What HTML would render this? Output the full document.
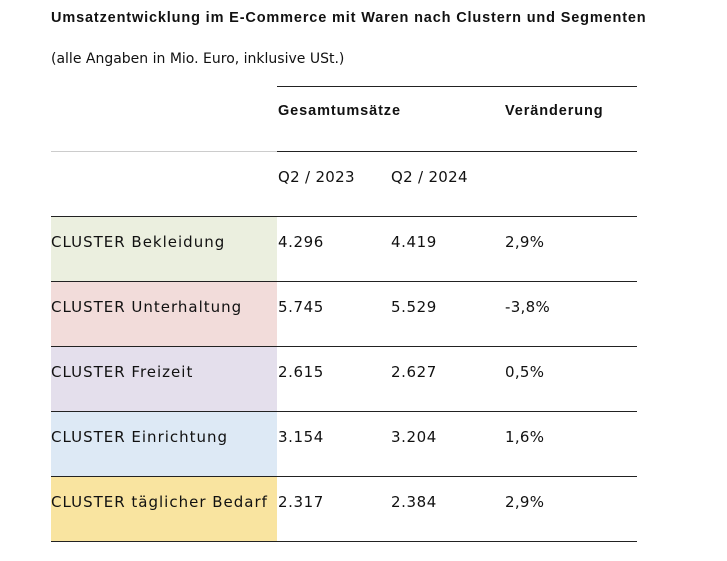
<!DOCTYPE html>
<html><head><meta charset="utf-8"><style>
body{margin:0;width:727px;height:561px;background:#fff;font-family:"DejaVu Sans","Liberation Sans",sans-serif;color:#111;position:relative;overflow:hidden}
.a{position:absolute;white-space:nowrap;font-size:15px;letter-spacing:1px}
.b{font-family:"Liberation Sans",sans-serif;font-weight:bold;font-size:14.5px;letter-spacing:0.9px}
.l{position:absolute;height:1px;background:#222}
.c{position:absolute;left:51px;width:226px;height:64px}
</style></head><body>
<div class="a b" style="left:51px;top:10px;letter-spacing:0.85px">Umsatzentwicklung im E-Commerce mit Waren nach Clustern und Segmenten</div>
<div class="a" style="left:51px;top:51px;letter-spacing:0;font-size:14px">(alle Angaben in Mio. Euro, inklusive USt.)</div>
<div class="l" style="left:277px;top:86px;width:360px"></div>
<div class="a b" style="left:278px;top:103px">Gesamtumsätze</div>
<div class="a b" style="left:505px;top:103px">Veränderung</div>
<div class="l" style="left:51px;top:151px;width:226px;background:#ccc"></div>
<div class="l" style="left:277px;top:151px;width:360px"></div>
<div class="a" style="left:278px;top:168px;letter-spacing:0.3px">Q2 / 2023</div>
<div class="a" style="left:391px;top:168px;letter-spacing:0.3px">Q2 / 2024</div>
<div id="rows"></div>
<script>
const clusters=["CLUSTER Bekleidung","CLUSTER Unterhaltung","CLUSTER Freizeit","CLUSTER Einrichtung","CLUSTER täglicher Bedarf"];
const q2023=["4.296","5.745","2.615","3.154","2.317"];
const q2024=["4.419","5.529","2.627","3.204","2.384"];
const change=["2,9%","-3,8%","0,5%","1,6%","2,9%"];
const fills=["#ebefdf","#f2dcda","#e4dfec","#dde9f5","#f9e4a0"];
const r=document.getElementById('rows');
function add(cls,style,text,name){const d=document.createElement('div');d.className=cls;d.style.cssText=style;if(text)d.textContent=text;


r.appendChild(d);}
clusters.forEach((c,i)=>{const y=216+65*i;
add('l','left:51px;top:'+y+'px;width:586px','', 'row-line');
add('c','top:'+(y+1)+'px;background:'+fills[i],'', 'cluster-cell');
add('a','left:51px;top:'+(y+17)+'px',c,'cluster-label');
add('a','left:278px;top:'+(y+17)+'px;letter-spacing:0.6px',q2023[i],'value-2023');
add('a','left:391px;top:'+(y+17)+'px;letter-spacing:0.6px',q2024[i],'value-2024');
add('a','left:505px;top:'+(y+17)+'px;letter-spacing:0.3px',change[i],'value-change');
});
add('l','left:51px;top:541px;width:586px','', 'bottom-line');
</script>
</body></html>
